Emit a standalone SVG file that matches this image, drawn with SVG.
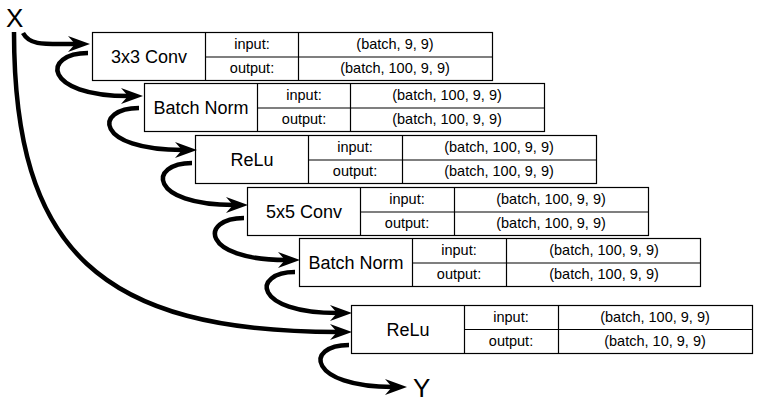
<svg xmlns="http://www.w3.org/2000/svg" width="761" height="405" viewBox="0 0 761 405">
<style>
.box{fill:#fff;stroke:#000;stroke-width:1.2}
.ln{stroke:#000;stroke-width:1.2}
.lbl{font-family:"Liberation Sans",Arial,sans-serif;font-size:18px;text-anchor:middle;fill:#000}
.sm{font-family:"Liberation Sans",Arial,sans-serif;font-size:14.5px;text-anchor:middle;fill:#000}
.xy{font-family:"Liberation Sans",Arial,sans-serif;font-size:26px;fill:#000}
.arr{fill:none;stroke:#000;stroke-width:4.5;marker-end:url(#ah)}
</style>
<defs>
<marker id="ah" markerUnits="userSpaceOnUse" markerWidth="24" markerHeight="18" viewBox="0 0 24 18" refX="8" refY="9" orient="auto">
<polygon points="0,1 22,9 0,17 7,9" fill="#000"/>
</marker>
</defs>
<g id="node-x"><text class="xy" x="6" y="27">X</text></g>
<g id="node-y"><text class="xy" x="413" y="397">Y</text></g>

<g id="node-conv3">
<rect class="box" x="92.5" y="32.5" width="400" height="48"/>
<line class="ln" x1="205.5" y1="32.5" x2="205.5" y2="80.5"/>
<line class="ln" x1="298.5" y1="32.5" x2="298.5" y2="80.5"/>
<line class="ln" x1="205.5" y1="57" x2="492.5" y2="57"/>
<text class="lbl" x="149" y="63">3x3 Conv</text>
<text class="sm" x="252" y="49">input:</text>
<text class="sm" x="252" y="73">output:</text>
<text class="sm" x="395" y="49">(batch, 9, 9)</text>
<text class="sm" x="395" y="73">(batch, 100, 9, 9)</text>
</g>

<g id="node-bn1">
<rect class="box" x="144.5" y="83.5" width="400" height="48"/>
<line class="ln" x1="257.5" y1="83.5" x2="257.5" y2="131.5"/>
<line class="ln" x1="350.5" y1="83.5" x2="350.5" y2="131.5"/>
<line class="ln" x1="257.5" y1="108" x2="544.5" y2="108"/>
<text class="lbl" x="201" y="114">Batch Norm</text>
<text class="sm" x="304" y="100">input:</text>
<text class="sm" x="304" y="124">output:</text>
<text class="sm" x="447" y="100">(batch, 100, 9, 9)</text>
<text class="sm" x="447" y="124">(batch, 100, 9, 9)</text>
</g>

<g id="node-relu1">
<rect class="box" x="195.5" y="135.5" width="401" height="48"/>
<line class="ln" x1="308.5" y1="135.5" x2="308.5" y2="183.5"/>
<line class="ln" x1="402.5" y1="135.5" x2="402.5" y2="183.5"/>
<line class="ln" x1="308.5" y1="160" x2="596.5" y2="160"/>
<text class="lbl" x="252" y="166">ReLu</text>
<text class="sm" x="355" y="152">input:</text>
<text class="sm" x="355" y="176">output:</text>
<text class="sm" x="499" y="152">(batch, 100, 9, 9)</text>
<text class="sm" x="499" y="176">(batch, 100, 9, 9)</text>
</g>

<g id="node-conv5">
<rect class="box" x="247.5" y="187.5" width="401" height="48"/>
<line class="ln" x1="360.5" y1="187.5" x2="360.5" y2="235.5"/>
<line class="ln" x1="454.5" y1="187.5" x2="454.5" y2="235.5"/>
<line class="ln" x1="360.5" y1="212" x2="648.5" y2="212"/>
<text class="lbl" x="304" y="218">5x5 Conv</text>
<text class="sm" x="407" y="204">input:</text>
<text class="sm" x="407" y="228">output:</text>
<text class="sm" x="551" y="204">(batch, 100, 9, 9)</text>
<text class="sm" x="551" y="228">(batch, 100, 9, 9)</text>
</g>

<g id="node-bn2">
<rect class="box" x="299.5" y="238.5" width="401" height="48"/>
<line class="ln" x1="412.5" y1="238.5" x2="412.5" y2="286.5"/>
<line class="ln" x1="506.5" y1="238.5" x2="506.5" y2="286.5"/>
<line class="ln" x1="412.5" y1="263" x2="700.5" y2="263"/>
<text class="lbl" x="356" y="269">Batch Norm</text>
<text class="sm" x="459" y="255">input:</text>
<text class="sm" x="459" y="279">output:</text>
<text class="sm" x="604" y="255">(batch, 100, 9, 9)</text>
<text class="sm" x="604" y="279">(batch, 100, 9, 9)</text>
</g>

<g id="node-relu2">
<rect class="box" x="351.5" y="305.5" width="401" height="48"/>
<line class="ln" x1="464.5" y1="305.5" x2="464.5" y2="353.5"/>
<line class="ln" x1="558.5" y1="305.5" x2="558.5" y2="353.5"/>
<line class="ln" x1="464.5" y1="329.5" x2="752.5" y2="329.5"/>
<text class="lbl" x="408" y="336">ReLu</text>
<text class="sm" x="511" y="322">input:</text>
<text class="sm" x="511" y="346">output:</text>
<text class="sm" x="655" y="322">(batch, 100, 9, 9)</text>
<text class="sm" x="655" y="346">(batch, 10, 9, 9)</text>
</g>

<g id="connectors">
<path class="arr" d="M23 33 C30 46 45 44 76 44"/>
<path class="arr" d="M88 53 C42 53 42 96 129 96"/>
<path class="arr" d="M139 108 C94 108 94 150 183 150"/>
<path class="arr" d="M192 163 C148 163 148 205 234 205"/>
<path class="arr" d="M244 218 C200 218 200 260 286 260"/>
<path class="arr" d="M295 272 C252 272 252 313 338 313"/>
<path class="arr" d="M349 345 C304 345 308 387 393 387"/>
<path class="arr" d="M14 32 C14 250 100 332 338 332"/>
</g>
</svg>
